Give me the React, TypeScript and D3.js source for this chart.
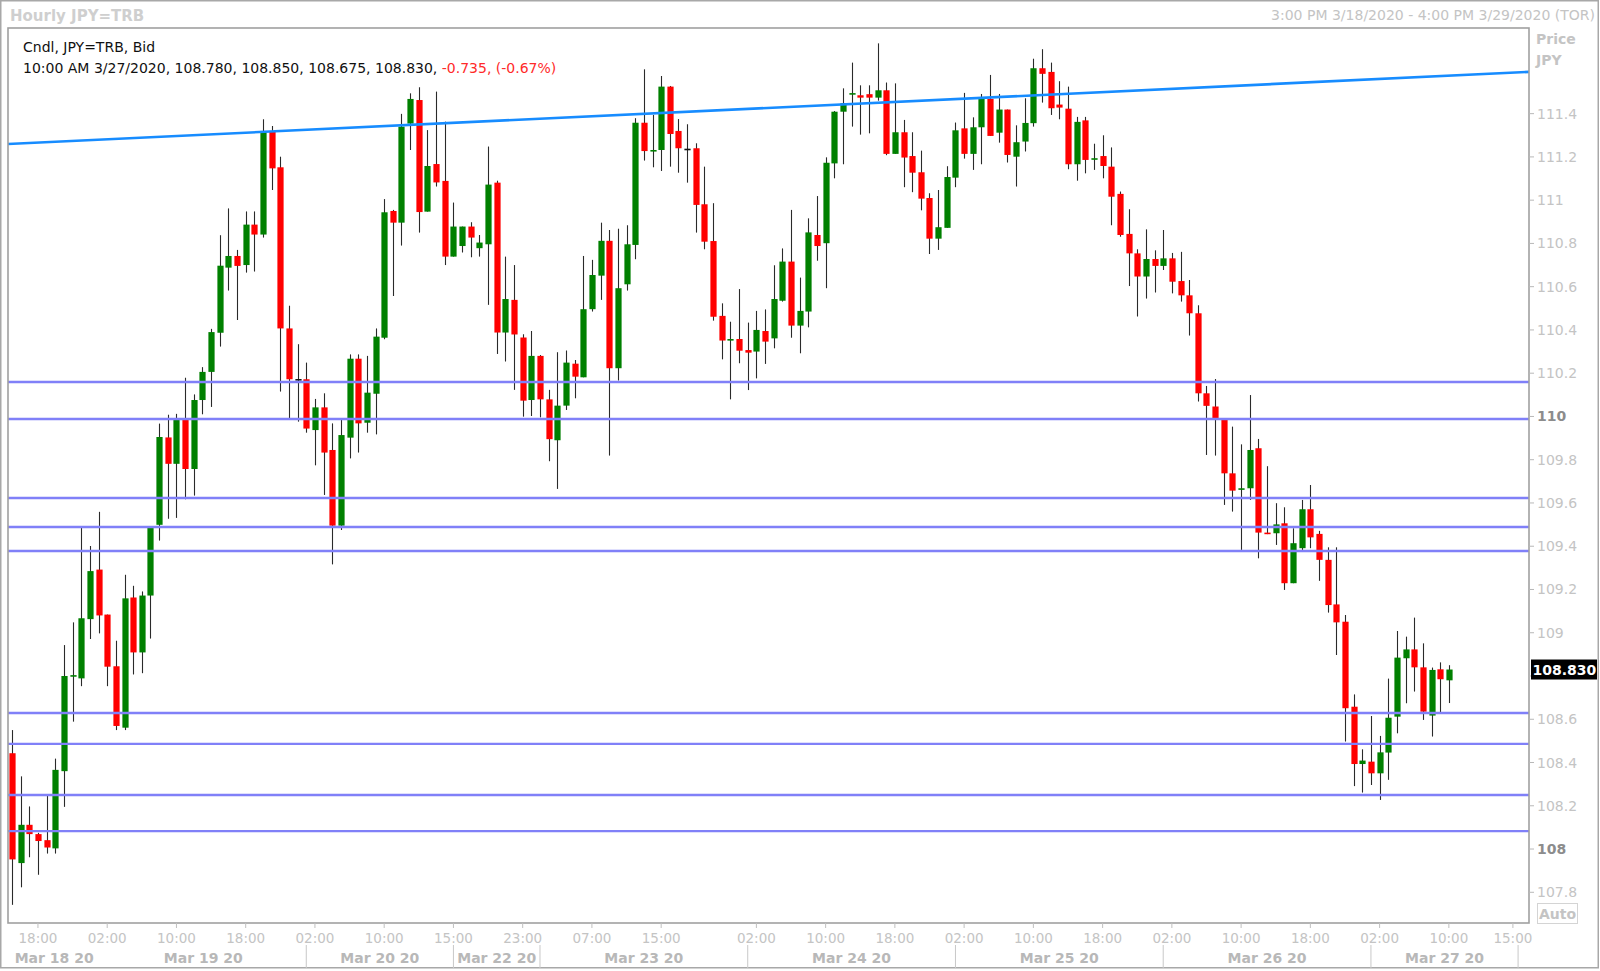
import * as d3 from "d3";

// hourly candles, 15:00 Mar 18 .. 10:00 Mar 27 (index = bar number)
const opens = [
  108.443, 107.935, 108.112, 108.069, 108.041, 108.003, 108.36, 108.8, 108.789, 109.063,
  109.292, 109.084, 108.845, 108.561, 109.163, 108.909, 109.172, 109.499, 109.903, 109.781,
  109.984, 109.757, 110.076, 110.206, 110.387, 110.688, 110.742, 110.7, 110.887, 110.841,
  111.317, 111.152, 110.407, 110.173, 110.172, 109.937, 110.042, 109.845, 109.495, 109.902,
  110.267, 109.971, 110.105, 110.364, 110.95, 110.896, 111.354, 111.463, 110.947, 111.167,
  111.089, 110.739, 110.788, 110.878, 110.778, 110.796, 111.081, 110.388, 110.539, 110.365,
  110.076, 110.28, 110.079, 109.89, 110.05, 110.244, 110.181, 110.496, 110.651, 110.812,
  110.223, 110.611, 110.793, 111.358, 111.227, 111.232, 111.525, 111.32, 111.238, 111.24,
  110.981, 110.811, 110.465, 110.354, 110.358, 110.307, 110.3, 110.395, 110.361, 110.535,
  110.716, 110.42, 110.485, 110.839, 110.801, 111.17, 111.409, 111.49, 111.485, 111.49,
  111.474, 111.508, 111.214, 111.314, 111.204, 111.129, 111.01, 110.822, 110.872, 111.104,
  111.332, 111.214, 111.337, 111.468, 111.312, 111.419, 111.201, 111.271, 111.356, 111.61,
  111.593, 111.442, 111.423, 111.166, 111.369, 111.19, 111.204, 111.155, 111.029, 110.844,
  110.754, 110.647, 110.728, 110.696, 110.731, 110.626, 110.56, 110.477, 110.107, 110.046,
  109.992, 109.737, 109.663, 109.668, 109.853, 109.463, 109.46, 109.506, 109.229, 109.391,
  109.571, 109.457, 109.337, 109.131, 109.051, 108.658, 108.393, 108.404, 108.35, 108.446,
  108.612, 108.882, 108.923, 108.84, 108.617, 108.831, 108.78,
];
const highs = [
  108.55, 108.336, 108.197, 108.075, 108.247, 108.418, 108.943, 109.048, 109.486, 109.401,
  109.559, 109.084, 108.963, 109.268, 109.217, 109.191, 109.49, 109.967, 110.008, 110.012,
  110.179, 110.102, 110.228, 110.405, 110.838, 110.962, 110.77, 110.948, 110.948, 111.374,
  111.343, 111.201, 110.512, 110.334, 110.249, 110.081, 110.107, 109.968, 109.984, 110.287,
  110.287, 110.28, 110.407, 111.005, 110.955, 111.399, 111.494, 111.522, 111.324, 111.502,
  111.363, 110.989, 110.878, 110.898, 110.839, 111.248, 111.09, 110.739, 110.7, 110.38,
  110.395, 110.284, 110.123, 110.297, 110.305, 110.261, 110.742, 110.724, 110.896, 110.862,
  110.868, 110.884, 111.379, 111.605, 111.394, 111.574, 111.528, 111.375, 111.351, 111.263,
  111.155, 110.986, 110.523, 110.438, 110.589, 110.434, 110.488, 110.495, 110.699, 110.777,
  110.955, 110.642, 110.916, 111.019, 111.198, 111.412, 111.517, 111.636, 111.531, 111.531,
  111.725, 111.544, 111.54, 111.371, 111.314, 111.229, 111.032, 111.047, 111.157, 111.359,
  111.496, 111.383, 111.491, 111.579, 111.491, 111.419, 111.346, 111.471, 111.654, 111.698,
  111.636, 111.55, 111.525, 111.385, 111.385, 111.261, 111.3, 111.244, 111.04, 110.958,
  110.773, 110.865, 110.768, 110.862, 110.756, 110.761, 110.631, 110.514, 110.141, 110.173,
  109.992, 109.953, 109.871, 110.099, 109.896, 109.77, 109.599, 109.58, 109.483, 109.614,
  109.683, 109.471, 109.395, 109.395, 109.082, 108.715, 108.461, 108.615, 108.523, 108.788,
  109.008, 108.982, 109.07, 108.951, 108.839, 108.863, 108.85,
];
const lows = [
  107.742, 107.823, 107.962, 107.881, 107.979, 107.979, 108.195, 108.589, 108.753, 108.971,
  108.997, 108.753, 108.55, 108.55, 108.807, 108.813, 108.973, 109.426, 109.527, 109.531,
  109.617, 109.634, 110.01, 110.044, 110.323, 110.582, 110.446, 110.665, 110.67, 110.827,
  111.047, 110.115, 109.991, 109.976, 109.925, 109.774, 109.637, 109.316, 109.475, 109.806,
  109.833, 109.925, 109.917, 110.357, 110.557, 110.79, 111.232, 110.85, 110.947, 111.063,
  110.7, 110.739, 110.758, 110.736, 110.739, 110.516, 110.289, 110.254, 110.123, 109.999,
  110.002, 109.996, 109.793, 109.665, 110.03, 110.084, 110.181, 110.485, 110.539, 109.819,
  110.166, 110.582, 110.727, 111.183, 111.152, 111.135, 111.155, 111.127, 111.081, 110.85,
  110.773, 110.443, 110.264, 110.079, 110.246, 110.122, 110.176, 110.243, 110.315, 110.531,
  110.364, 110.292, 110.412, 110.72, 110.593, 111.101, 111.166, 111.34, 111.303, 111.309,
  111.46, 111.208, 111.214, 111.06, 111.037, 110.953, 110.751, 110.77, 110.872, 111.06,
  111.192, 111.14, 111.166, 111.297, 111.266, 111.174, 111.063, 111.225, 111.34, 111.451,
  111.394, 111.374, 111.143, 111.09, 111.124, 111.14, 111.101, 110.884, 110.831, 110.603,
  110.462, 110.545, 110.573, 110.677, 110.569, 110.531, 110.374, 110.069, 109.822, 109.819,
  109.591, 109.56, 109.383, 109.614, 109.344, 109.456, 109.406, 109.198, 109.229, 109.383,
  109.391, 109.24, 109.093, 108.897, 108.497, 108.291, 108.261, 108.296, 108.227, 108.32,
  108.535, 108.674, 108.728, 108.597, 108.52, 108.631, 108.675,
];
const closes = [
  107.952, 108.112, 108.069, 108.037, 108.007, 108.366, 108.8, 108.804, 109.067, 109.285,
  109.08, 108.843, 108.569, 109.159, 108.909, 109.172, 109.49, 109.905, 109.781, 109.984,
  109.757, 110.076, 110.206, 110.39, 110.697, 110.742, 110.696, 110.887, 110.841, 111.32,
  111.147, 110.407, 110.172, 110.173, 109.944, 110.042, 109.833, 109.495, 109.914, 110.267,
  109.968, 110.11, 110.369, 110.944, 110.896, 111.34, 111.468, 110.945, 111.158, 111.082,
  110.739, 110.878, 110.878, 110.827, 110.804, 111.072, 110.388, 110.543, 110.379, 110.073,
  110.28, 110.079, 109.895, 110.05, 110.249, 110.184, 110.496, 110.654, 110.812, 110.223,
  110.593, 110.796, 111.358, 111.227, 111.232, 111.525, 111.306, 111.24, 111.238, 110.978,
  110.808, 110.461, 110.351, 110.358, 110.304, 110.295, 110.4, 110.346, 110.543, 110.716,
  110.42, 110.488, 110.851, 110.788, 111.173, 111.409, 111.448, 111.495, 111.474, 111.474,
  111.508, 111.214, 111.314, 111.197, 111.127, 111.007, 110.822, 110.875, 111.107, 111.323,
  111.214, 111.337, 111.468, 111.297, 111.419, 111.209, 111.268, 111.357, 111.61, 111.584,
  111.425, 111.428, 111.166, 111.362, 111.186, 111.194, 111.158, 111.016, 110.839, 110.754,
  110.647, 110.728, 110.696, 110.731, 110.623, 110.56, 110.477, 110.107, 110.049, 109.992,
  109.737, 109.657, 109.668, 109.845, 109.463, 109.456, 109.501, 109.229, 109.414, 109.571,
  109.441, 109.337, 109.128, 109.048, 108.651, 108.393, 108.409, 108.35, 108.447, 108.607,
  108.885, 108.923, 108.84, 108.635, 108.828, 108.785, 108.83,
];

// hour ticks on the time axis (bar index + label)
const hourTickIdx = [3, 11, 19, 27, 35, 43, 51, 59, 67, 75, 86, 94, 102, 110, 118, 126, 134, 142, 150, 158, 166, 173.4];
const hourTickLabels = [
  "18:00", "02:00", "10:00", "18:00", "02:00", "10:00", "15:00", "23:00", "07:00", "15:00", "02:00",
  "10:00", "18:00", "02:00", "10:00", "18:00", "02:00", "10:00", "18:00", "02:00", "10:00", "15:00",
];
// day bands: start index of each day, last entry is the end of the data window
const dayStarts = [-0.46, 10.2, 34, 51, 61, 85, 109, 133, 157, 174];
const dayLabels = ["Mar 18 20", "Mar 19 20", "Mar 20 20", "Mar 22 20", "Mar 23 20", "Mar 24 20", "Mar 25 20", "Mar 26 20", "Mar 27 20"];

const priceTicks = d3.range(107.8, 111.41, 0.2).map((v) => +v.toFixed(1));

// drawn support / resistance levels
const levels = [110.159, 109.988, 109.623, 109.489, 109.378, 108.629, 108.486, 108.25, 108.083];
// trend line endpoints (bar index, price)
const trendIdx = [-0.46, 175.26];
const trendPrice = [111.26, 111.593];

const lastPrice = 108.83;

const W = 1600;
const H = 971;
const L = 8;
const R = 1529;
const T = 28;
const B = 923;
const FONT = "'DejaVu Sans', Verdana, sans-serif";

export default function App() {
  const x = d3.scaleLinear().domain([-0.46, 175.26]).range([L, R]);
  const y = d3.scaleLinear().domain([107.658, 111.796]).range([B, T]);
  const bodyW = 6.2;

  const candles = opens.map((o, i) => {
    const c = closes[i];
    const cx = Math.round(x(i)) + 0.5;
    const top = y(Math.max(o, c));
    const bot = y(Math.min(o, c));
    const color = c > o ? "#008000" : c < o ? "#ff0000" : "#111";
    return (
      <g key={i}>
        <line x1={cx} x2={cx} y1={y(highs[i])} y2={y(lows[i])} stroke="#2a2a2a" strokeWidth={1.1} />
        <rect
          x={cx - bodyW / 2}
          y={top}
          width={bodyW}
          height={Math.max(bot - top, 1.6)}
          fill={color}
        />
      </g>
    );
  });

  const trendLine = d3.line<number>()
    .x((d) => x(d))
    .y((d, i) => y(trendPrice[i]))(trendIdx);

  // the last-price badge covers the tick label under it
  const visibleTicks = priceTicks.filter((v) => Math.abs(y(v) - y(lastPrice)) > 14);

  return (
    <svg
      width={W}
      height={H}
      style={{ position: "absolute", left: 0, top: 0, background: "#fff" }}
      fontFamily={FONT}
    >
      <defs>
        <clipPath id="plotClip">
          <rect x={L} y={T} width={R - L} height={B - T} />
        </clipPath>
      </defs>
      <rect x={0.75} y={0.75} width={W - 2.5} height={H - 4} fill="#fff" stroke="#a8a8a8" strokeWidth={1.5} />

      <text x={10} y={21} fontSize={15} fontWeight="bold" fill="#cfcfcf">Hourly JPY=TRB</text>
      <text x={1595} y={20} fontSize={14} fill="#c4c4c4" textAnchor="end">
        3:00 PM 3/18/2020 - 4:00 PM 3/29/2020 (TOR)
      </text>

      <g clipPath="url(#plotClip)">
        {candles}
        {levels.map((v, i) => (
          <line key={i} x1={L} x2={R} y1={y(v)} y2={y(v)} stroke="#8080f8" strokeWidth={2.4} />
        ))}
        <path d={trendLine || ""} stroke="#178cff" strokeWidth={2.6} fill="none" />
      </g>

      <rect x={L} y={T} width={R - L} height={B - T} fill="none" stroke="#a0a0a0" strokeWidth={1.6} />

      <text x={23} y={52} fontSize={14} fill="#111">Cndl, JPY=TRB, Bid</text>
      <text x={23} y={73} fontSize={14} fill="#111">
        10:00 AM 3/27/2020, 108.780, 108.850, 108.675, 108.830,{" "}
        <tspan fill="#ff2a2a">-0.735, (-0.67%)</tspan>
      </text>

      {/* price axis */}
      <text x={1536} y={43.5} fontSize={14} fontWeight="bold" fill="#c4c4c4">Price</text>
      <text x={1536} y={65} fontSize={14} fontWeight="bold" fill="#c4c4c4">JPY</text>
      {priceTicks.map((v) => (
        <line key={v} x1={R} x2={R + 5} y1={y(v)} y2={y(v)} stroke="#b8b8b8" />
      ))}
      {visibleTicks.map((v) => {
        const major = Number.isInteger(v) && v % 2 === 0;
        return (
          <text
            key={v}
            x={1537}
            y={y(v) + 5}
            fontSize={14}
            fontWeight={major ? "bold" : "normal"}
            fill={major ? "#8c8c8c" : "#c4c4c4"}
          >
            {String(v)}
          </text>
        );
      })}
      <rect x={1531} y={y(lastPrice) - 10} width={66} height={20} fill="#000" />
      <text x={1532.5} y={y(lastPrice) + 5} fontSize={14} fontWeight="bold" fill="#fff">
        {lastPrice.toFixed(3)}
      </text>
      <rect x={1537.5} y={903.5} width={40} height={20} fill="#fff" stroke="#d4d4d4" />
      <text x={1539} y={918.5} fontSize={14} fontWeight="bold" fill="#c4c4c4">Auto</text>

      {/* time axis */}
      {hourTickIdx.map((v, i) => (
        <g key={i}>
          <line x1={x(v)} x2={x(v)} y1={B} y2={B + 5} stroke="#c0c0c0" />
          <text x={x(v)} y={943} fontSize={13.5} fill="#c4c4c4" textAnchor="middle">
            {hourTickLabels[i]}
          </text>
        </g>
      ))}
      {dayLabels.map((d, i) => {
        const a = dayStarts[i];
        const b = dayStarts[i + 1];
        return (
          <g key={d}>
            {i >= 2 && (
              <line x1={x(a)} x2={x(a)} y1={945} y2={968} stroke="#c8c8c8" />
            )}
            <text x={x((a + b) / 2)} y={963} fontSize={14} fontWeight="bold" fill="#b8b8b8" textAnchor="middle">
              {d}
            </text>
          </g>
        );
      })}
      <line
        x1={x(dayStarts[dayStarts.length - 1])}
        x2={x(dayStarts[dayStarts.length - 1])}
        y1={945}
        y2={968}
        stroke="#c8c8c8"
      />
    </svg>
  );
}
